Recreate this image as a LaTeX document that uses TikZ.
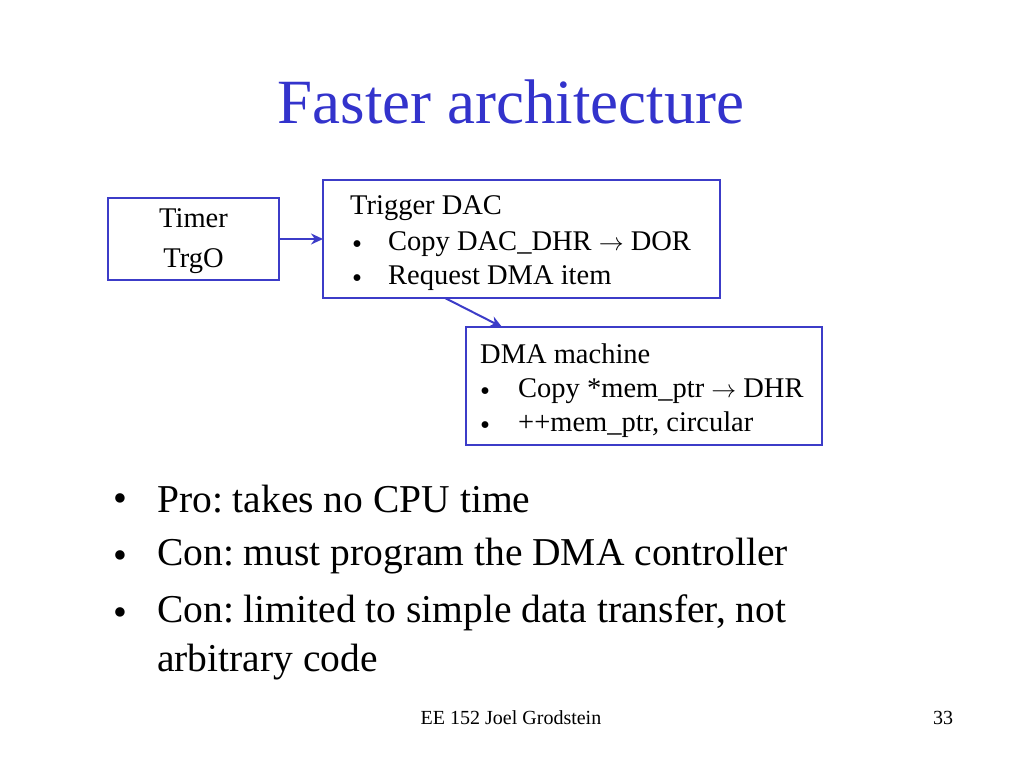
\documentclass[tikz,border=0pt]{standalone}
\usepackage{fontspec}
\setmainfont{Liberation Serif}
\usetikzlibrary{arrows.meta}
\definecolor{ttl}{RGB}{51,51,204}
\definecolor{bx}{RGB}{60,60,200}
\frenchspacing
\begin{document}
\begin{tikzpicture}[x=1pt,y=-1pt,
  box/.style={draw=bx,line width=1.5pt},
  bt/.style={anchor=west,inner sep=0,font=\fontsize{28.5}{30}\selectfont},
  big/.style={anchor=west,inner sep=0,font=\fontsize{39.5}{40}\selectfont},
  arr/.style={draw=bx,line width=2pt,-{Stealth[length=12pt,width=11pt]}}]
\useasboundingbox (0,0) rectangle (1024,768);
\node[inner sep=0,text=ttl,font=\fontsize{63}{60}\selectfont] (title) at (511,102) {Faster architecture};
\draw[box] (108,198) rectangle (279,280);
\node[inner sep=0,align=center,font=\fontsize{28.5}{40}\selectfont] (tt) at (193.5,241) {Timer\\TrgO};
\draw[box] (323,180) rectangle (720,298);
\coordinate (trigL) at (323,239);
\coordinate (trigB) at (445,298);
\node[bt] (t1) at (350,208) {Trigger DAC};
\node[bt] (t2) at (352,247) {•};
\node[bt] (t3) at (388,244) {Copy DAC\_DHR $\rightarrow$ DOR};
\node[bt] (t4) at (352,281) {•};
\node[bt] (t5) at (388,278) {Request DMA item};
\draw[box] (466,327) rectangle (822,445);
\coordinate (dmaT) at (502,327);
\node[bt] (d1) at (480,354) {DMA machine};
\node[bt] (d2) at (480,394) {•};
\node[bt] (d3) at (518,391) {Copy *mem\_ptr $\rightarrow$ DHR};
\node[bt] (d4) at (480,428) {•};
\node[bt] (d5) at (518,425) {++mem\_ptr, circular};
\draw[arr] (279,239) -- (trigL);
\draw[arr] (trigB) -- (dmaT);
\node[big] (b1) at (113,503) {•};
\node[big] (p1) at (157,499) {Pro: takes no CPU time};
\node[big] (b2) at (113,560) {•};
\node[big] (p2) at (157,556) {Con: must program the DMA controller};
\node[big] (b3) at (113,617) {•};
\node[big] (p3) at (157,613) {Con: limited to simple data transfer, not};
\node[big] (p4) at (157,662) {arbitrary code};
\node[inner sep=0,font=\fontsize{20}{20}\selectfont] (f1) at (511,718) {EE 152 Joel Grodstein};
\node[inner sep=0,font=\fontsize{20}{20}\selectfont] (f2) at (943,718) {33};
\end{tikzpicture}
\end{document}
